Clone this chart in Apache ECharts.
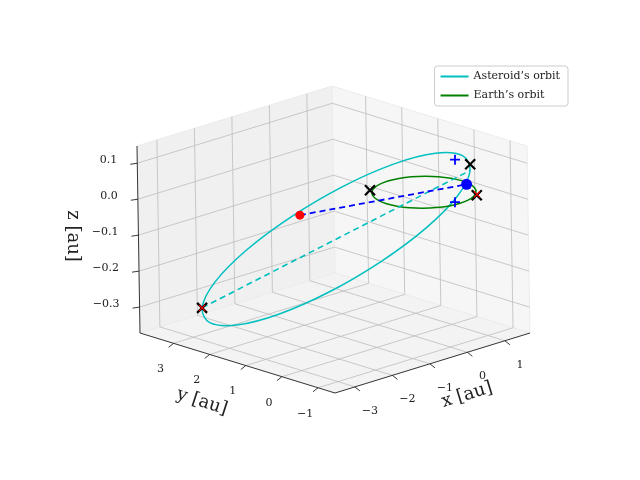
<!DOCTYPE html>
<html>
<head>
<meta charset="utf-8">
<script src="https://cdn.jsdelivr.net/npm/echarts@6/dist/echarts.min.js"></script>
<style>html,body{margin:0;padding:0;background:#fff}#chart{width:640px;height:480px}</style>
</head>
<body>
<div id="chart"></div>
<script>
// axis ranges and ticks [au]
var xRange = [-3.53, 1.67], yRange = [-1.47, 3.93], zRange = [-0.372, 0.148];
var xTicks = [-3, -2, -1, 0, 1];
var yTicks = [-1, 0, 1, 2, 3];
var zTicks = [-0.3, -0.2, -0.1, 0.0, 0.1];
var zTickLabels = ['\u22120.3', '\u22120.2', '\u22120.1', '0.0', '0.1'];

// asteroid orbit (x, y, z)
var astX = [0.905, 1.382, 1.544, 1.368, 0.88, 0.154, -0.698, -1.548, -2.265, -2.742, -2.904, -2.728, -2.24, -1.514, -0.662, 0.188];
var astY = [-0.678, 0.029, 0.948, 1.937, 2.85, 3.545, 3.914, 3.907, 3.518, 2.811, 1.892, 0.903, -0.01, -0.705, -1.074, -1.067];
var astZ = [0.08, 0.084, 0.057, 0.002, -0.073, -0.156, -0.233, -0.294, -0.33, -0.334, -0.307, -0.252, -0.177, -0.094, -0.017, 0.044];

// earth orbit
var earthX = [1.59, 1.556, 1.456, 1.297, 1.09, 0.849, 0.59, 0.331, 0.09, -0.117, -0.276, -0.376,
              -0.41, -0.376, -0.276, -0.117, 0.09, 0.331, 0.59, 0.849, 1.09, 1.297, 1.456, 1.556];
var earthY = [0.285, 0.544, 0.785, 0.992, 1.151, 1.251, 1.285, 1.251, 1.151, 0.992, 0.785, 0.544,
              0.285, 0.026, -0.215, -0.422, -0.581, -0.681, -0.715, -0.681, -0.581, -0.422, -0.215, 0.026];
var earthZ = [0, 0, 0, 0, 0, 0, 0, 0, 0, 0, 0, 0, 0, 0, 0, 0, 0, 0, 0, 0, 0, 0, 0, 0];

// special points
var apsides = [[-2.265, 3.518, -0.33], [0.905, -0.678, 0.08]];
var blackCross = [[-2.265, 3.518, -0.33], [0.87, -0.72, 0.1], [-0.046, 1.12, 0], [1.163, -0.582, 0]];
var redCross = [[-2.265, 3.518, -0.33], [1.2, -0.55, 0]];
var bluePlus = [[0.86, -0.31, 0.1], [0.57, -0.595, 0]];
var redDot = [-2.06, 0.97, 0];
var blueDot = [1.5, 0.05, 0];

// simple affine projection of the box onto the page
var O = [335, 393], ex = [195, -60], ey = [-195, -60], ez = [-3, -187];
function proj(p) {
    var xn = (p[0] - xRange[0]) / (xRange[1] - xRange[0]);
    var yn = (p[1] - yRange[0]) / (yRange[1] - yRange[0]);
    var zn = (p[2] - zRange[0]) / (zRange[1] - zRange[0]);
    return [O[0] + xn * ex[0] + yn * ey[0] + zn * ez[0],
            O[1] + xn * ex[1] + yn * ey[1] + zn * ez[1]];
}
function zip(a, b, c) {
    var out = [];
    for (var i = 0; i < a.length; i++) out.push(proj([a[i], b[i], c[i]]));
    return out;
}

var x0 = xRange[0], x1 = xRange[1], y0 = yRange[0], y1 = yRange[1], z0 = zRange[0], z1 = zRange[1];
var panes = [
    {pts: [[x0, y1, z0], [x1, y1, z0], [x1, y1, z1], [x0, y1, z1]], color: '#f0f0f0'},
    {pts: [[x1, y0, z0], [x1, y1, z0], [x1, y1, z1], [x1, y0, z1]], color: '#f6f6f6'},
    {pts: [[x0, y0, z0], [x1, y0, z0], [x1, y1, z0], [x0, y1, z0]], color: '#f3f3f3'}
];
var gridSegs = [];
xTicks.forEach(function (x) {
    gridSegs.push([[x, y0, z0], [x, y1, z0]]);
    gridSegs.push([[x, y1, z0], [x, y1, z1]]);
});
yTicks.forEach(function (y) {
    gridSegs.push([[x0, y, z0], [x1, y, z0]]);
    gridSegs.push([[x1, y, z0], [x1, y, z1]]);
});
zTicks.forEach(function (z) {
    gridSegs.push([[x0, y1, z], [x1, y1, z]]);
    gridSegs.push([[x1, y0, z], [x1, y1, z]]);
});
var axisSegs = [
    [[x0, y0, z0], [x1, y0, z0]],
    [[x0, y0, z0], [x0, y1, z0]],
    [[x0, y1, z0], [x0, y1, z1]]
];
var tickSegs = [], labels = [];
xTicks.forEach(function (x) {
    var p = proj([x, y0, z0]);
    tickSegs.push([p, [p[0] + 5, p[1] + 4]]);
    labels.push({p: [p[0] + 15, p[1] + 24], t: String(x).replace('-', '\u2212'), align: 'center'});
});
yTicks.forEach(function (y) {
    var p = proj([x0, y, z0]);
    tickSegs.push([p, [p[0] - 5, p[1] + 4]]);
    labels.push({p: [p[0] - 13, p[1] + 26], t: String(y).replace('-', '\u2212'), align: 'center'});
});
zTicks.forEach(function (z, i) {
    var p = proj([x0, y1, z]);
    tickSegs.push([p, [p[0] - 7, p[1] + 1]]);
    labels.push({p: [p[0] - 20, p[1] - 3], t: zTickLabels[i], align: 'right'});
});

var serif = 'DejaVu Serif';
var crossPath = 'path://M0,0L10,10M10,0L0,10';
var plusPath = 'path://M5,0L5,10M0,5L10,5';

function lineItem(color, width) {
    return function (params, api) {
        var a = api.coord([api.value(0), api.value(1)]), b = api.coord([api.value(2), api.value(3)]);
        return {type: 'line', shape: {x1: a[0], y1: a[1], x2: b[0], y2: b[1]}, style: {stroke: color, lineWidth: width}};
    };
}
function segSeries(segs, color, width, z) {
    return {
        type: 'custom', silent: true, z: z,
        data: segs.map(function (s) { var a = proj(s[0]), b = proj(s[1]); return [a[0], a[1], b[0], b[1]]; }),
        renderItem: lineItem(color, width)
    };
}
// closed orbit drawn as a smoothed ring through the projected points
function orbitSeries(name, pts, color) {
    return {
        name: name, type: 'custom', silent: true, z: 5,
        itemStyle: {color: color},
        data: [0],
        renderItem: function (params, api) {
            return {type: 'polygon',
                shape: {points: pts.map(function (q) { return api.coord(q); }), smooth: 0.35},
                style: {fill: 'none', stroke: color, lineWidth: 1.5}};
        }
    };
}

var series = [];
panes.forEach(function (pn) {
    series.push({
        type: 'custom', silent: true, z: 1,
        data: [0],
        renderItem: function (params, api) {
            return {type: 'polygon', shape: {points: pn.pts.map(function (q) { return api.coord(proj(q)); })},
                style: {fill: pn.color, stroke: '#ececec'}};
        }
    });
});
series.push(segSeries(gridSegs, '#bdbdbd', 0.8, 2));
series.push(segSeries(axisSegs, '#222', 0.9, 3));
series.push({
    type: 'custom', silent: true, z: 3,
    data: tickSegs.map(function (s) { return [s[0][0], s[0][1], s[1][0], s[1][1]]; }),
    renderItem: lineItem('#222', 0.9)
});
series.push({
    type: 'custom', silent: true, z: 3,
    data: labels.map(function (l, i) { return [l.p[0], l.p[1], i]; }),
    renderItem: function (params, api) {
        var l = labels[api.value(2)], c = api.coord([api.value(0), api.value(1)]);
        return {type: 'text', x: c[0], y: c[1], style: {text: l.t, fill: '#222', font: '11px ' + serif, align: l.align, verticalAlign: 'middle'}};
    }
});
series.push(orbitSeries('Asteroid\u2019s orbit', zip(astX, astY, astZ), '#00bfbf'));
series.push(orbitSeries('Earth\u2019s orbit', zip(earthX, earthY, earthZ), '#008000'));
series.push({
    type: 'line', z: 6, data: apsides.map(proj), showSymbol: false,
    lineStyle: {color: '#00bfbf', width: 1.6, type: [6, 4]}
});
series.push({
    type: 'line', z: 6, data: [redDot, blueDot].map(proj), showSymbol: false,
    lineStyle: {color: '#0000ff', width: 1.8, type: [6, 4]}
});
series.push({
    type: 'scatter', z: 7, data: [proj(redDot)], symbolSize: 9, itemStyle: {color: '#ff0000', opacity: 1}
});
series.push({
    type: 'scatter', z: 7, data: [proj(blueDot)], symbolSize: 11, itemStyle: {color: '#0000ff', opacity: 1}
});
series.push({
    type: 'scatter', z: 8, data: blackCross.map(proj), symbol: crossPath, symbolSize: 10,
    itemStyle: {color: '#000', borderColor: '#000', borderWidth: 2.2, opacity: 1}
});
series.push({
    type: 'scatter', z: 9, data: redCross.map(proj), symbol: crossPath, symbolSize: 6,
    itemStyle: {color: '#ff0000', borderColor: '#ff0000', borderWidth: 1.2, opacity: 1}
});
series.push({
    type: 'scatter', z: 8, data: bluePlus.map(proj), symbol: plusPath, symbolSize: 10,
    itemStyle: {color: '#0000ff', borderColor: '#0000ff', borderWidth: 1.8, opacity: 1}
});

var chart = echarts.init(document.getElementById('chart'));
chart.setOption({
    animation: false,
    grid: {left: 0, right: 0, top: 0, bottom: 0},
    xAxis: {type: 'value', min: 0, max: 640, show: false},
    yAxis: {type: 'value', min: 0, max: 480, inverse: true, show: false},
    legend: {
        data: ['Asteroid\u2019s orbit', 'Earth\u2019s orbit'],
        orient: 'vertical', right: 72, top: 66, itemGap: 8, padding: [5, 8, 5, 6],
        itemWidth: 28, itemHeight: 2, icon: 'rect',
        borderColor: '#ccc', borderWidth: 1, borderRadius: 3, backgroundColor: '#fff',
        textStyle: {fontFamily: serif, fontSize: 11, color: '#222'}
    },
    graphic: [
        {type: 'text', x: 467, y: 395, rotation: 17 * Math.PI / 180, style: {text: 'x [au]', font: '18px ' + serif, fill: '#222', align: 'center', verticalAlign: 'middle'}},
        {type: 'text', x: 202, y: 402, rotation: -18 * Math.PI / 180, style: {text: 'y [au]', font: '18px ' + serif, fill: '#222', align: 'center', verticalAlign: 'middle'}},
        {type: 'text', x: 73, y: 236, rotation: -Math.PI / 2, style: {text: 'z [au]', font: '18px ' + serif, fill: '#222', align: 'center', verticalAlign: 'middle'}}
    ],
    series: series
});
</script>
</body>
</html>
